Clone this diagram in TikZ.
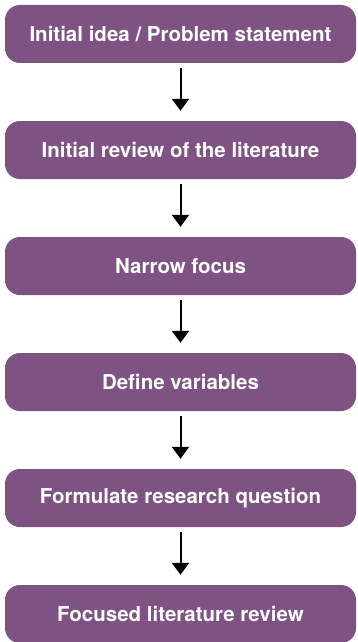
\documentclass[tikz,border=0pt]{standalone}
\usepackage{fontspec}
\setmainfont{TeX Gyre Heros}
\usetikzlibrary{arrows.meta,positioning}
\definecolor{stepviolet}{HTML}{7E5283}

\begin{document}
\begin{tikzpicture}[
    stagebox/.style={rectangle, rounded corners=15pt, fill=stepviolet, text=white,
        minimum width=351pt, minimum height=58pt, font=\fontsize{20.5}{23}\selectfont\bfseries},
    flowarrow/.style={-{Triangle[width=17pt,length=12pt]}, line width=2pt, black,
        shorten <=5pt, shorten >=10pt},
    node distance=57.6pt
]
    \useasboundingbox (0,0) rectangle (357pt,-642pt);
    \node[stagebox] (idea) at (180.5pt,-34pt) {Initial idea / Problem statement};
    \node[stagebox, below=of idea] (review) {Initial review of the literature};
    \node[stagebox, below=of review] (focus) {Narrow focus};
    \node[stagebox, below=of focus] (vars) {Define variables};
    \node[stagebox, below=of vars] (question) {Formulate research question};
    \node[stagebox, below=of question] (litrev) {Focused literature review};
    \draw[flowarrow] (idea) -- (review);
    \draw[flowarrow] (review) -- (focus);
    \draw[flowarrow] (focus) -- (vars);
    \draw[flowarrow] (vars) -- (question);
    \draw[flowarrow] (question) -- (litrev);
\end{tikzpicture}
\end{document}
